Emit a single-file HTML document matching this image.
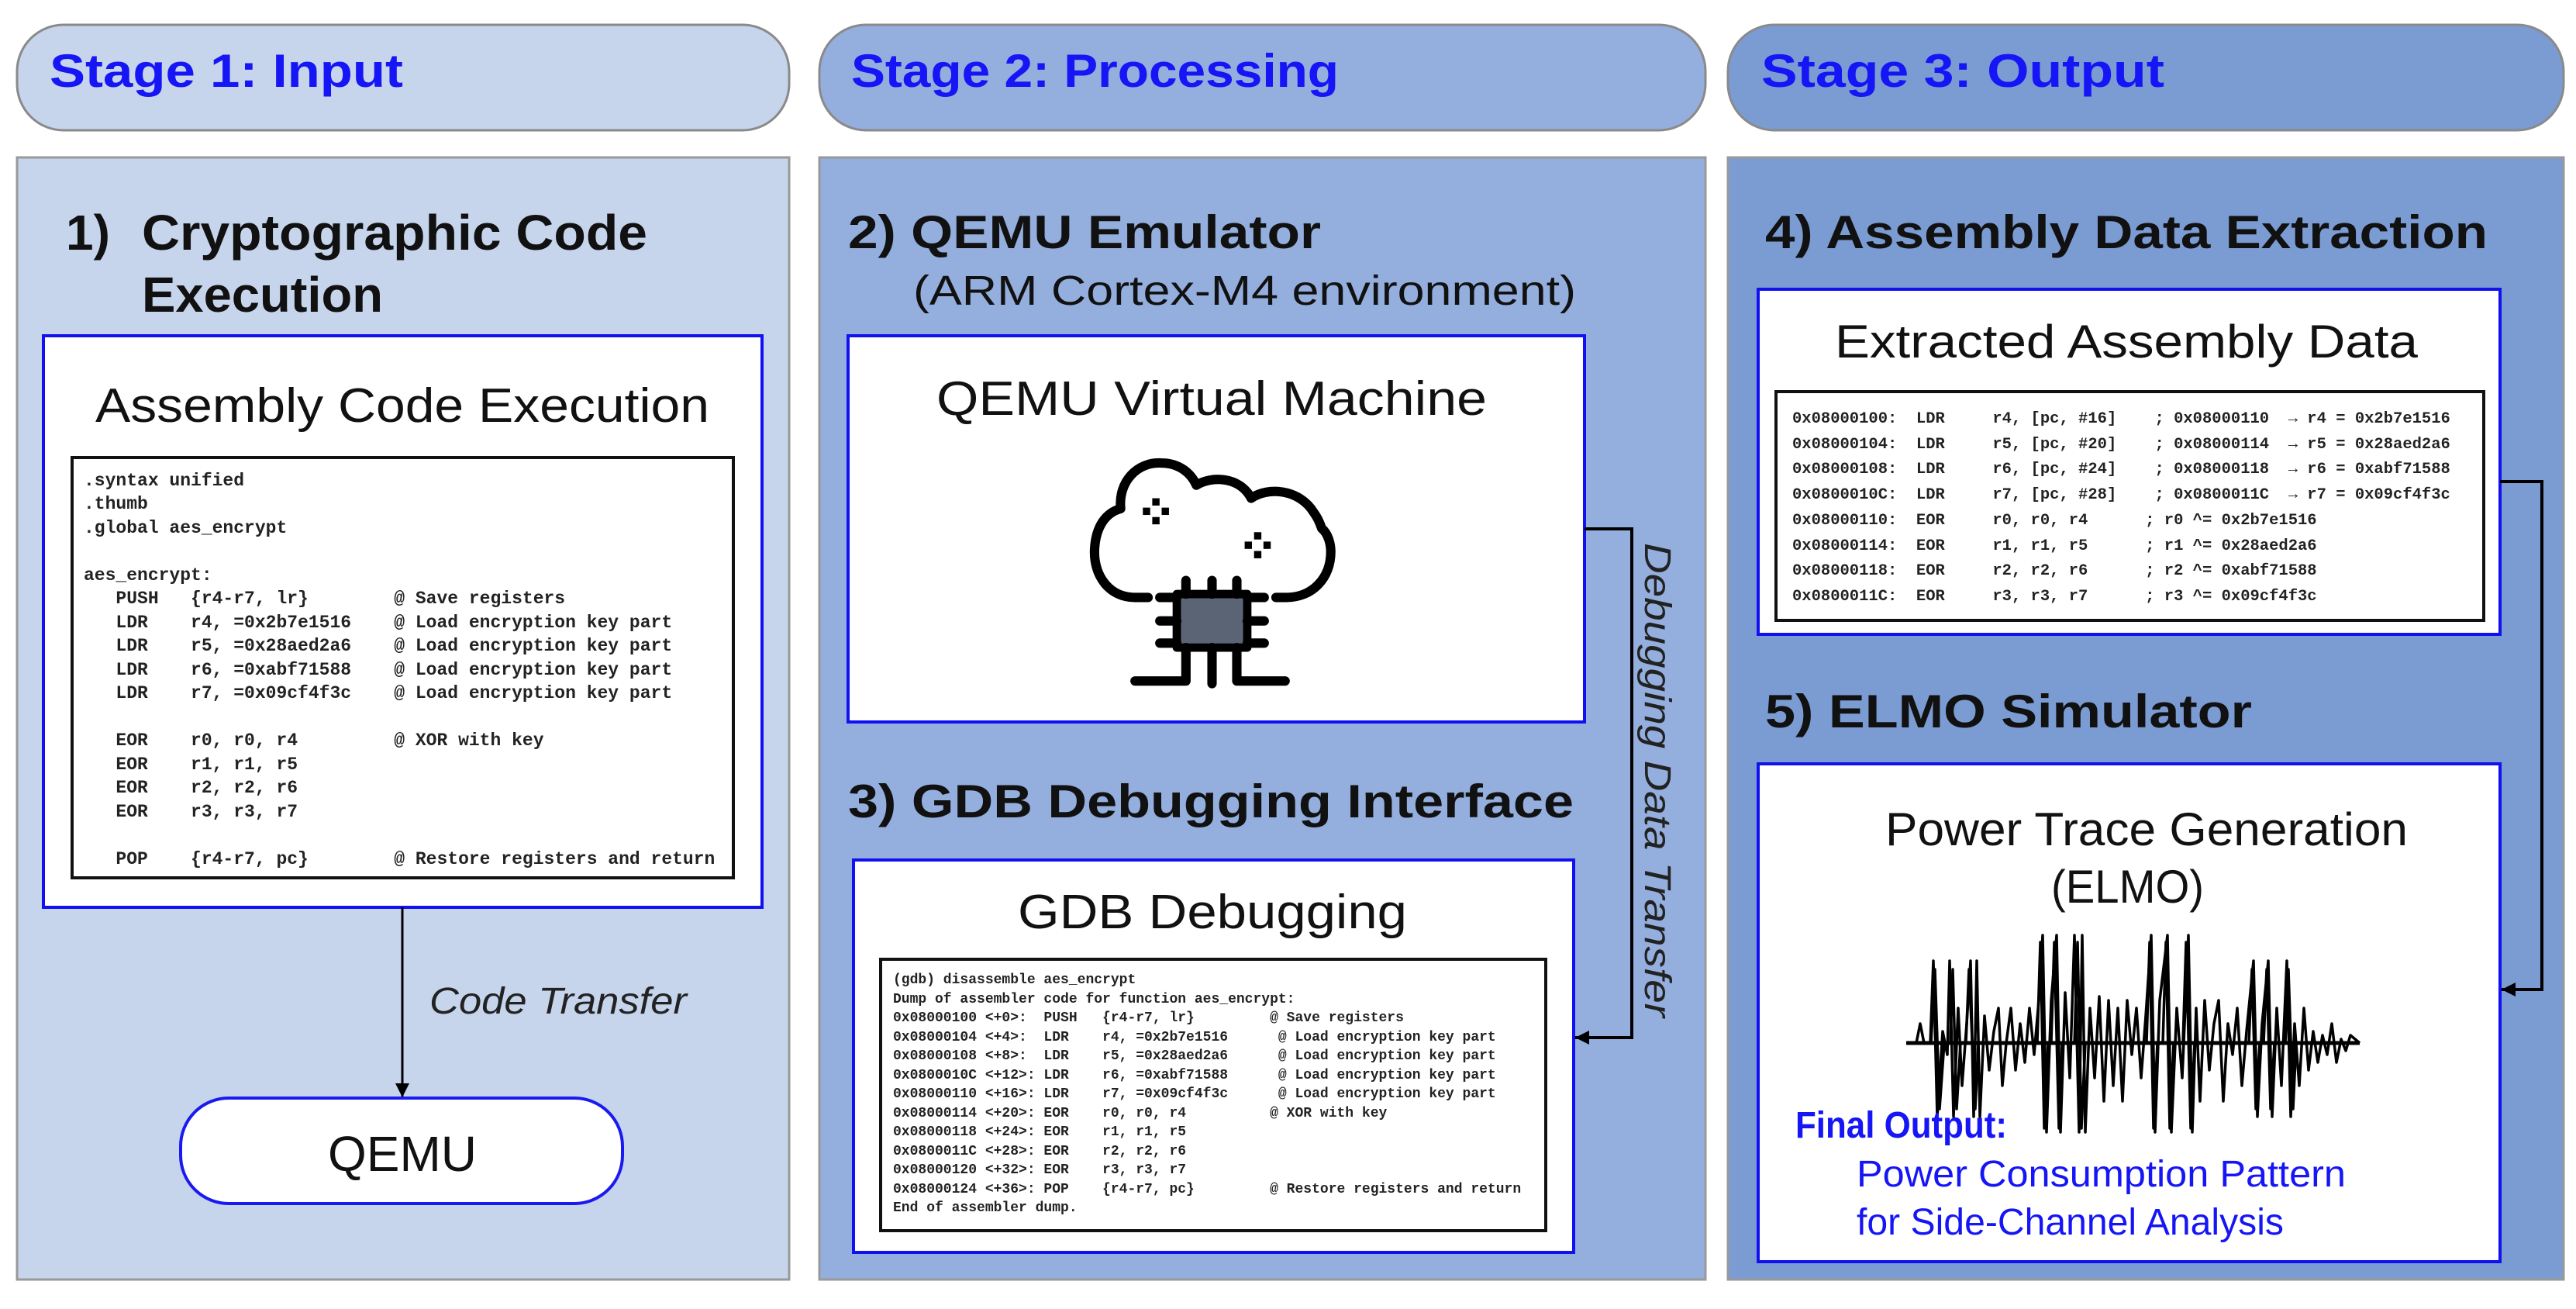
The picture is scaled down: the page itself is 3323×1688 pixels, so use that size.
<!DOCTYPE html>
<html><head><meta charset="utf-8"><style>
html,body{margin:0;padding:0;background:#fff;}
svg{display:block;}
.m text{white-space:pre;}
</style></head><body>
<svg width="3323" height="1688" viewBox="0 0 3323 1688" xmlns="http://www.w3.org/2000/svg" font-family="Liberation Sans, sans-serif">
<defs>
<marker id="ah" viewBox="0 0 10 10" refX="10" refY="5" markerWidth="18" markerHeight="18" markerUnits="userSpaceOnUse" orient="auto"><path d="M0,0 L10,5 L0,10 z" fill="#000"/></marker>
</defs>
<!-- Headers -->
<rect x="22" y="32" width="996" height="136" rx="60" fill="#c6d4ec" stroke="#8a8a8a" stroke-width="3"/>
<rect x="1057" y="32" width="1143" height="136" rx="60" fill="#94aedd" stroke="#8a8a8a" stroke-width="3"/>
<rect x="2229" y="32" width="1078" height="136" rx="60" fill="#7b9bd3" stroke="#8a8a8a" stroke-width="3"/>
<text x="64" y="112" font-size="60" font-weight="bold" fill="#1515f5" textLength="456" lengthAdjust="spacingAndGlyphs">Stage 1: Input</text>
<text x="1098" y="112" font-size="60" font-weight="bold" fill="#1515f5" textLength="629" lengthAdjust="spacingAndGlyphs">Stage 2: Processing</text>
<text x="2272" y="112" font-size="60" font-weight="bold" fill="#1515f5" textLength="520" lengthAdjust="spacingAndGlyphs">Stage 3: Output</text>
<!-- Panels -->
<rect x="22" y="203" width="996" height="1447" fill="#c6d4ec" stroke="#999" stroke-width="3"/>
<rect x="1057" y="203" width="1143" height="1447" fill="#94aedd" stroke="#999" stroke-width="3"/>
<rect x="2229" y="203" width="1078" height="1447" fill="#7b9bd3" stroke="#999" stroke-width="3"/>

<!-- Stage 1 -->
<text x="85" y="322" font-size="64" font-weight="bold" fill="#111">1)</text>
<text x="183" y="322" font-size="64" font-weight="bold" fill="#111" textLength="652" lengthAdjust="spacingAndGlyphs">Cryptographic Code</text>
<text x="183" y="402" font-size="64" font-weight="bold" fill="#111" textLength="311" lengthAdjust="spacingAndGlyphs">Execution</text>
<rect x="56" y="433" width="927" height="737" fill="#fff" stroke="#1010f0" stroke-width="4"/>
<text x="123" y="544" font-size="62" fill="#111" textLength="792" lengthAdjust="spacingAndGlyphs">Assembly Code Execution</text>
<rect x="93" y="590" width="853" height="542" fill="#fff" stroke="#111" stroke-width="4"/>
<g class="m" font-family="Liberation Mono, monospace" font-size="23" font-weight="bold" fill="#222">
<text x="108" y="626">.syntax unified</text>
<text x="108" y="656">.thumb</text>
<text x="108" y="687">.global aes_encrypt</text>
<text x="108" y="748">aes_encrypt:</text>
<text x="108" y="778">   PUSH   {r4-r7, lr}        @ Save registers</text>
<text x="108" y="809">   LDR    r4, =0x2b7e1516    @ Load encryption key part</text>
<text x="108" y="839">   LDR    r5, =0x28aed2a6    @ Load encryption key part</text>
<text x="108" y="870">   LDR    r6, =0xabf71588    @ Load encryption key part</text>
<text x="108" y="900">   LDR    r7, =0x09cf4f3c    @ Load encryption key part</text>
<text x="108" y="961">   EOR    r0, r0, r4         @ XOR with key</text>
<text x="108" y="992">   EOR    r1, r1, r5</text>
<text x="108" y="1022">   EOR    r2, r2, r6</text>
<text x="108" y="1053">   EOR    r3, r3, r7</text>
<text x="108" y="1114">   POP    {r4-r7, pc}        @ Restore registers and return</text>
</g>
<line x1="519" y1="1170" x2="519" y2="1415" stroke="#000" stroke-width="3" marker-end="url(#ah)"/>
<text x="554" y="1307" font-size="48" font-style="italic" fill="#222" textLength="332" lengthAdjust="spacingAndGlyphs">Code Transfer</text>
<rect x="233" y="1416" width="570" height="136" rx="62" fill="#fff" stroke="#1a1af0" stroke-width="4"/>
<text x="423" y="1510" font-size="64" fill="#111" textLength="192" lengthAdjust="spacingAndGlyphs">QEMU</text>

<!-- Stage 2 -->
<text x="1094" y="320" font-size="60" font-weight="bold" fill="#111" textLength="610" lengthAdjust="spacingAndGlyphs">2)  QEMU Emulator</text>
<text x="1178" y="393" font-size="54" fill="#111" textLength="855" lengthAdjust="spacingAndGlyphs">(ARM Cortex-M4 environment)</text>
<rect x="1094" y="433" width="950" height="498" fill="#fff" stroke="#1010f0" stroke-width="4"/>
<text x="1208" y="535" font-size="62" fill="#111" textLength="710" lengthAdjust="spacingAndGlyphs">QEMU Virtual Machine</text>
<g transform="translate(1380,560) scale(0.3367)" fill="none" stroke="#000" stroke-width="36" stroke-linecap="round" stroke-linejoin="round">
<path d="M300,625 L250,625 C150,625 90,540 95,440 C100,350 140,300 195,285 C185,180 260,105 350,110 C420,110 465,150 485,195 C540,160 650,160 695,245 C760,200 880,210 935,300 C950,320 960,345 965,360 C990,380 1000,420 1000,450 C1000,550 930,625 830,625 L790,625"/>
<rect x="410" y="612" width="270" height="205" fill="#5b6474" stroke-width="32"/>
<path d="M445,560 V612 M545,560 V612 M640,560 V612 M345,625 H410 M345,715 H410 M345,800 H410 M680,625 H745 M680,715 H745 M680,800 H745 M445,817 V945 H250 M545,817 V955 M640,817 V945 H825"/>
<g fill="#000" stroke="none">
<rect x="316" y="245" width="28" height="28"/><rect x="316" y="317" width="28" height="28"/><rect x="280" y="281" width="28" height="28"/><rect x="352" y="281" width="28" height="28"/>
<rect x="706" y="375" width="28" height="28"/><rect x="706" y="447" width="28" height="28"/><rect x="670" y="411" width="28" height="28"/><rect x="742" y="411" width="28" height="28"/>
</g>
</g>
<text x="1094" y="1054" font-size="60" font-weight="bold" fill="#111" textLength="936" lengthAdjust="spacingAndGlyphs">3)  GDB Debugging Interface</text>
<rect x="1101" y="1109" width="929" height="506" fill="#fff" stroke="#1010f0" stroke-width="4"/>
<text x="1313" y="1197" font-size="62" fill="#111" textLength="502" lengthAdjust="spacingAndGlyphs">GDB Debugging</text>
<rect x="1136" y="1237" width="858" height="350" fill="#fff" stroke="#111" stroke-width="4"/>
<g class="m" font-family="Liberation Mono, monospace" font-size="18" font-weight="bold" fill="#222">
<text x="1152" y="1268">(gdb) disassemble aes_encrypt</text>
<text x="1152" y="1293">Dump of assembler code for function aes_encrypt:</text>
<text x="1152" y="1317">0x08000100 &lt;+0&gt;:  PUSH   {r4-r7, lr}         @ Save registers</text>
<text x="1152" y="1342">0x08000104 &lt;+4&gt;:  LDR    r4, =0x2b7e1516      @ Load encryption key part</text>
<text x="1152" y="1366">0x08000108 &lt;+8&gt;:  LDR    r5, =0x28aed2a6      @ Load encryption key part</text>
<text x="1152" y="1391">0x0800010C &lt;+12&gt;: LDR    r6, =0xabf71588      @ Load encryption key part</text>
<text x="1152" y="1415">0x08000110 &lt;+16&gt;: LDR    r7, =0x09cf4f3c      @ Load encryption key part</text>
<text x="1152" y="1440">0x08000114 &lt;+20&gt;: EOR    r0, r0, r4          @ XOR with key</text>
<text x="1152" y="1464">0x08000118 &lt;+24&gt;: EOR    r1, r1, r5</text>
<text x="1152" y="1489">0x0800011C &lt;+28&gt;: EOR    r2, r2, r6</text>
<text x="1152" y="1513">0x08000120 &lt;+32&gt;: EOR    r3, r3, r7</text>
<text x="1152" y="1538">0x08000124 &lt;+36&gt;: POP    {r4-r7, pc}         @ Restore registers and return</text>
<text x="1152" y="1562">End of assembler dump.</text>
</g>
<polyline points="2044,682 2105,682 2105,1338 2032,1338" fill="none" stroke="#000" stroke-width="4" marker-end="url(#ah)"/>
<text transform="translate(2122,700) rotate(90)" font-size="48" font-style="italic" fill="#222" textLength="612" lengthAdjust="spacingAndGlyphs">Debugging Data Transfer</text>

<!-- Stage 3 -->
<text x="2277" y="320" font-size="60" font-weight="bold" fill="#111" textLength="932" lengthAdjust="spacingAndGlyphs">4)  Assembly Data Extraction</text>
<rect x="2268" y="373" width="957" height="445" fill="#fff" stroke="#1010f0" stroke-width="4"/>
<text x="2367" y="461" font-size="60" fill="#111" textLength="752" lengthAdjust="spacingAndGlyphs">Extracted Assembly Data</text>
<rect x="2291" y="505" width="913" height="295" fill="#fff" stroke="#111" stroke-width="4"/>
<g class="m" font-family="Liberation Mono, monospace" font-size="20.5" font-weight="bold" fill="#222">
<text x="2312" y="545">0x08000100:  LDR     r4, [pc, #16]    ; 0x08000110  → r4 = 0x2b7e1516</text>
<text x="2312" y="578">0x08000104:  LDR     r5, [pc, #20]    ; 0x08000114  → r5 = 0x28aed2a6</text>
<text x="2312" y="610">0x08000108:  LDR     r6, [pc, #24]    ; 0x08000118  → r6 = 0xabf71588</text>
<text x="2312" y="643">0x0800010C:  LDR     r7, [pc, #28]    ; 0x0800011C  → r7 = 0x09cf4f3c</text>
<text x="2312" y="676">0x08000110:  EOR     r0, r0, r4      ; r0 ^= 0x2b7e1516</text>
<text x="2312" y="709">0x08000114:  EOR     r1, r1, r5      ; r1 ^= 0x28aed2a6</text>
<text x="2312" y="741">0x08000118:  EOR     r2, r2, r6      ; r2 ^= 0xabf71588</text>
<text x="2312" y="774">0x0800011C:  EOR     r3, r3, r7      ; r3 ^= 0x09cf4f3c</text>
</g>
<text x="2277" y="938" font-size="60" font-weight="bold" fill="#111" textLength="628" lengthAdjust="spacingAndGlyphs">5)  ELMO Simulator</text>
<rect x="2268" y="985" width="957" height="642" fill="#fff" stroke="#1010f0" stroke-width="4"/>
<text x="2432" y="1090" font-size="60" fill="#111" textLength="674" lengthAdjust="spacingAndGlyphs">Power Trace Generation</text>
<text x="2646" y="1164" font-size="60" fill="#111" textLength="197" lengthAdjust="spacingAndGlyphs">(ELMO)</text>
<polyline points="3225,621 3279,621 3279,1276 3227,1276" fill="none" stroke="#000" stroke-width="4" marker-end="url(#ah)"/>
<g fill="none" stroke="#000" stroke-width="3.5" stroke-linejoin="round">
<line x1="2459" y1="1345" x2="3044" y2="1345" stroke-width="5"/>
<polyline points="2459,1345 2472,1345 2477,1320 2482,1345 2490,1345 2494,1239 2499,1440 2506,1330 2512,1360 2515,1239 2520,1440 2526,1300 2531,1400 2537,1320 2542,1239 2546,1440 2550,1239 2554,1440 2560,1310 2566,1380 2572,1330 2578,1300 2583,1400 2588,1345 2594,1300 2600,1380 2606,1320 2612,1370 2618,1300 2624,1360 2630,1290 2635,1206 2640,1460 2646,1290 2653,1206 2658,1460 2664,1280 2670,1390 2676,1206 2682,1460 2686,1206 2690,1460 2696,1300 2702,1390 2708,1285 2714,1420 2720,1290 2726,1400 2732,1300 2738,1420 2744,1290 2750,1360 2756,1300 2762,1390 2768,1310 2775,1206 2780,1460 2786,1290 2796,1206 2801,1460 2808,1300 2815,1390 2823,1206 2828,1460 2833,1300 2838,1420 2844,1290 2850,1380 2856,1320 2862,1290 2868,1420 2874,1320 2880,1360 2886,1300 2892,1400 2898,1330 2907,1239 2912,1440 2918,1320 2926,1239 2931,1440 2937,1300 2943,1400 2950,1239 2955,1440 2960,1320 2966,1400 2972,1300 2978,1380 2984,1330 2990,1370 2996,1335 3002,1360 3008,1320 3014,1370 3020,1340 3026,1355 3032,1335 3044,1345"/>
<path d="M2491,1345 L2496,1250 L2502,1430 L2508,1345 M2516,1345 L2519,1250 L2524,1430 L2529,1345 M2536,1345 L2540,1250 L2548,1430 L2552,1345 M2628,1345 L2632,1215 L2637,1455 L2642,1345 M2646,1345 L2650,1215 L2656,1455 L2660,1345 M2676,1345 L2680,1215 L2685,1455 L2690,1345 M2769,1345 L2773,1215 L2778,1455 L2783,1345 M2790,1345 L2794,1215 L2799,1455 L2804,1345 M2816,1345 L2820,1215 L2826,1455 L2831,1345 M2901,1345 L2905,1250 L2910,1430 L2915,1345 M2920,1345 L2924,1250 L2929,1430 L2934,1345 M2948,1345 L2952,1250 L2958,1430 L2962,1345"/>
</g>
<text x="2316" y="1467" font-size="48" font-weight="bold" fill="#1515f5" textLength="273" lengthAdjust="spacingAndGlyphs">Final Output:</text>
<text x="2395" y="1530" font-size="48" fill="#1515f5" textLength="631" lengthAdjust="spacingAndGlyphs">Power Consumption Pattern</text>
<text x="2395" y="1592" font-size="48" fill="#1515f5" textLength="551" lengthAdjust="spacingAndGlyphs">for Side-Channel Analysis</text>
</svg>
</body></html>
